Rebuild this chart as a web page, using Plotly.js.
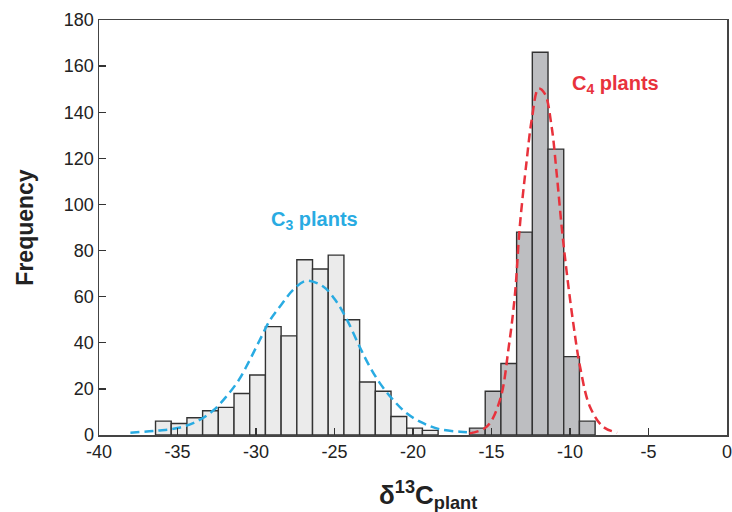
<!DOCTYPE html>
<html>
<head>
<meta charset="utf-8">
<script src="https://cdn.plot.ly/plotly-3.0.1.min.js"></script>
<style>html,body{margin:0;padding:0;background:#fff;}#chart{width:732px;height:512px;}</style>
</head>
<body>
<div id="chart"></div>
<script>
// C3 histogram (bin centers, 1 per-mil bins)
const c3BinCenters = [-35.9,-34.9,-33.9,-32.9,-31.9,-30.9,-29.9,-28.9,-27.9,-26.9,-25.9,-24.9,-23.9,-22.9,-21.9,-20.9,-19.9,-18.9];
const c3Counts     = [6,5,7.5,10.5,12,18,26,47,43,76,72,78,50,23,19,8,3,2];
// C4 histogram
const c4BinCenters = [-15.9,-14.9,-13.9,-12.9,-11.9,-10.9,-9.9,-8.9];
const c4Counts     = [3,19,31,88,166,124,34,6];
// C3 fitted curve
const c3CurveX = [-38.0,-36.3,-35.0,-33.8,-32.75,-31.9,-31.1,-30.4,-29.76,-29.1,-28.4,-27.6,-26.8,-25.7,-24.87,-24.2,-23.4,-22.75,-22.1,-21.26,-20.4,-19.35,-18.3,-17.0,-16.2];
const c3CurveY = [1,1.9,3,5.8,10.5,16.6,23.8,32.5,41.2,49.9,56.4,63.2,66.9,64.3,57.8,49.9,38.3,29.6,22.4,15.2,9.4,5.1,2.5,1.4,1.0];
// C4 fitted curve
const c4CurveX = [-16.4,-15.3,-14.46,-13.9,-13.5,-13.2,-12.76,-12.44,-12.0,-11.6,-11.17,-10.85,-10.53,-10.2,-9.79,-9.36,-8.73,-7.9,-7.0];
const c4CurveY = [0.7,3.6,15.2,38.3,61.4,90.3,119,136.6,150.3,148,133.7,113.5,90.3,70,48.4,29.6,12.3,3.6,1];
const xTicks = [-40,-35,-30,-25,-20,-15,-10,-5,0];
const yTicks = [0,20,40,60,80,100,120,140,160,180];

const blue = '#29abe2', red = '#e8323c';
const traces = [
  {type:'bar', x:c3BinCenters, y:c3Counts, width:1,
   marker:{color:'#ebebeb', line:{color:'#333', width:1.4}}, hoverinfo:'x+y'},
  {type:'bar', x:c4BinCenters, y:c4Counts, width:1,
   marker:{color:'#bdbec1', line:{color:'#333', width:1.4}}, hoverinfo:'x+y'},
  {type:'scatter', mode:'lines', x:c3CurveX, y:c3CurveY, line:{color:blue, width:2.5, dash:'9px,5px', shape:'spline'}},
  {type:'scatter', mode:'lines', x:c4CurveX, y:c4CurveY, line:{color:red, width:2.5, dash:'9px,5px', shape:'spline'}}
];
const layout = {
  width:732, height:512,
  margin:{l:99, r:5, t:20, b:77},
  paper_bgcolor:'#fff', plot_bgcolor:'#fff',
  showlegend:false, barmode:'overlay',
  font:{family:'Liberation Sans, Arial, sans-serif', color:'#222'},
  xaxis:{range:[-40,0], tickvals:xTicks, ticktext:xTicks.map(String), ticks:'inside', ticklen:7, tickwidth:1.4, tickcolor:'#333',
    showline:true, linecolor:'#444', linewidth:1.5, mirror:true, showgrid:false, zeroline:false,
    ticklabeloverflow:'allow',
    tickfont:{size:18, color:'#222'}},
  yaxis:{range:[0,180], tickvals:yTicks, ticks:'inside', ticklen:7, tickwidth:1.4, tickcolor:'#333',
    showline:true, linecolor:'#444', linewidth:1.5, mirror:true, showgrid:false, zeroline:false,
    tickfont:{size:18, color:'#222'},
    title:{text:'<b>Frequency</b>', font:{size:23, color:'#222'}, standoff:24}},
  annotations:[
    {x:0.524, y:0, xref:'paper', yref:'paper', yanchor:'middle', yshift:-60, text:'<b>δ<sup>13</sup>C<sub>plant</sub></b>', showarrow:false, font:{size:26, color:'#222'}},
    {x:-26.25, y:93, xref:'x', yref:'y', text:'<b>C<sub>3</sub> plants</b>', showarrow:false, font:{size:20, color:blue}},
    {x:-7.1, y:152, xref:'x', yref:'y', text:'<b>C<sub>4</sub> plants</b>', showarrow:false, font:{size:20, color:red}}
  ]
};
Plotly.newPlot('chart', traces, layout, {displayModeBar:false, staticPlot:true});
</script>
</body>
</html>
